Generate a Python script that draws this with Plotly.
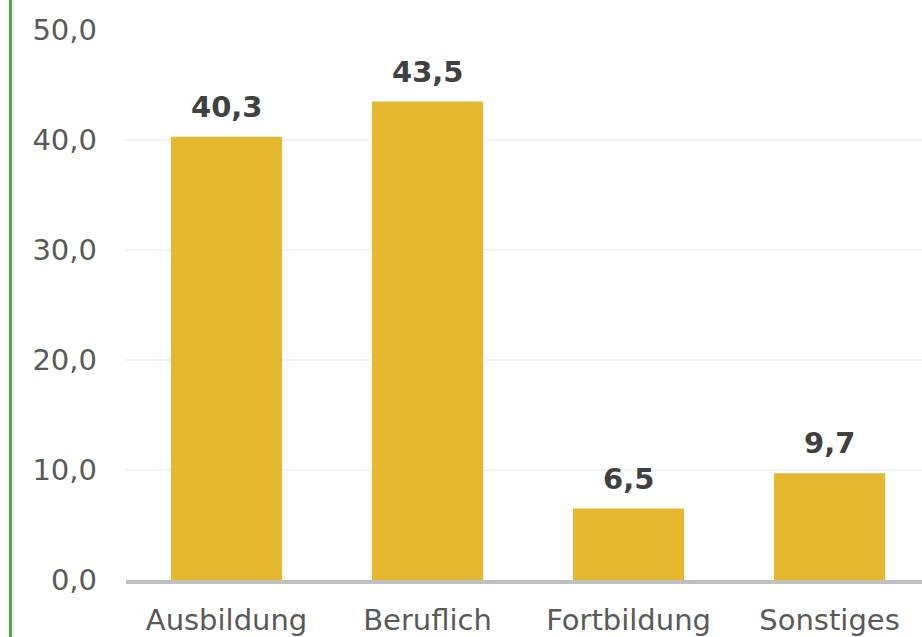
import plotly.graph_objects as go

categories = ["Ausbildung", "Beruflich", "Fortbildung", "Sonstiges"]
values = [40.3, 43.5, 6.5, 9.7]
y_ticks = [0, 10, 20, 30, 40, 50]
y_tick_labels = ["0,0", "10,0", "20,0", "30,0", "40,0", "50,0"]

W, H = 922, 637
ML, MR, MT, MB = 126, 0, 30, 57
FONT = "DejaVu Sans"
FS = 29

fig = go.Figure()
fig.add_trace(go.Bar(
    x=categories, y=values,
    marker=dict(color="#E6B830", line=dict(width=0)),
    hoverinfo="skip",
))

for c, v in zip(categories, values):
    fig.add_annotation(
        x=c, y=v, text=f"<b>{v:.1f}</b>".replace(".", ","),
        showarrow=False, yanchor="bottom", yshift=11,
        font=dict(family=FONT, size=FS, color="#404040"),
    )

pw = W - ML - MR
def px_to_paper(px):
    return (px - ML) / pw

fig.add_shape(type="line", xref="paper", yref="paper",
              x0=px_to_paper(10.5), x1=px_to_paper(10.5), y0=-1, y1=2,
              line=dict(color="#5A9E45", width=3), layer="above")
fig.add_shape(type="line", xref="paper", yref="paper",
              x0=px_to_paper(13.5), x1=px_to_paper(13.5), y0=-1, y1=2,
              line=dict(color="#EBEBEB", width=2), layer="above")

fig.update_layout(
    width=W, height=H,
    margin=dict(l=ML, r=MR, t=MT, b=MB, pad=0),
    plot_bgcolor="white", paper_bgcolor="white",
    bargap=0.447,
    showlegend=False,
    hovermode=False,
    font=dict(family=FONT, size=FS, color="#595959"),
    xaxis=dict(
        range=[-0.5, 3.46],
        showgrid=False, showline=True, linecolor="#BFBFBF", linewidth=4,
        ticks="", tickfont=dict(family=FONT, size=FS, color="#595959"),
        ticklabelstandoff=11,
    ),
    yaxis=dict(
        range=[0, 50],
        tickvals=y_ticks, ticktext=y_tick_labels,
        showgrid=True, gridcolor="#F2F2F2", gridwidth=2,
        zeroline=False, showline=False, ticks="",
        tickfont=dict(family=FONT, size=FS, color="#595959"),
        ticklabelstandoff=28,
    ),
)

fig.write_html(
    "out.html",
    config={"displayModeBar": False, "staticPlot": True},
    post_script="document.body.style.margin='0';document.body.style.overflow='hidden';",
)
